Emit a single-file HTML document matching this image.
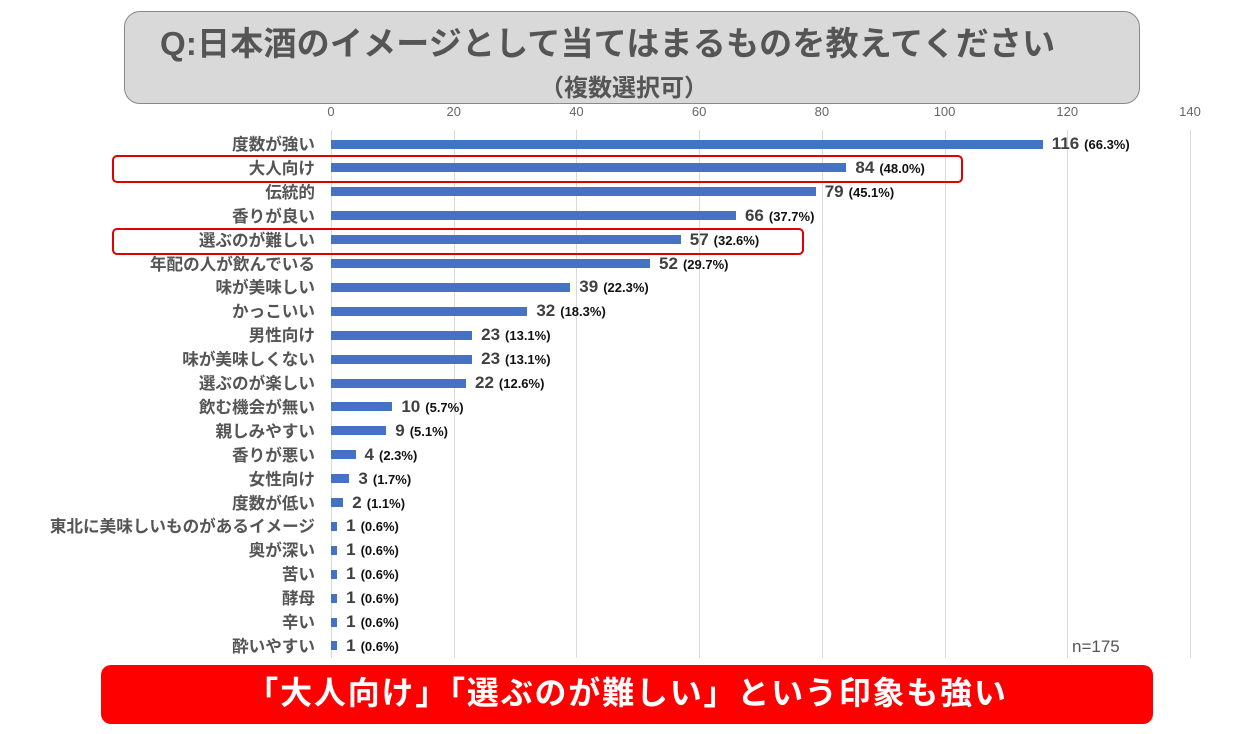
<!DOCTYPE html>
<html><head><meta charset="utf-8"><style>
body{margin:0;width:1258px;height:734px;background:#fff;position:relative;overflow:hidden;font-family:"Liberation Sans","Noto Sans CJK JP",sans-serif;}
.a{position:absolute}
.box{left:124px;top:11px;width:1014px;height:91px;background:#d9d9d9;border:1px solid #888;border-radius:16px}
.t1{left:160px;top:17px;font-size:33px;font-weight:bold;color:#555;white-space:nowrap;letter-spacing:0.2px}
.t2{left:540px;top:68px;font-size:24px;font-weight:bold;color:#555;white-space:nowrap}
.tick{top:104px;font-size:13px;color:#666;width:40px;margin-left:-20px;text-align:center}
.grid{top:130px;height:528px;width:1px;background:#d9d9d9}
.lab{right:943px;font-size:16.6px;font-weight:bold;color:#555;white-space:nowrap;line-height:20px}
.bar{left:331px;height:9px;background:#4472c4}
.val{white-space:nowrap;line-height:20px;color:#404040}
.val b{font-size:17px;font-weight:bold}
.val span{font-size:13px;font-weight:bold;color:#111;margin-left:5px}
.rb{border:2.5px solid #e00000;border-radius:5px;left:112px}
.ban{left:101px;top:665px;width:1052px;height:59px;background:#f00;border-radius:10px;color:#fff;font-size:32px;font-weight:bold;text-align:center;line-height:57px;letter-spacing:1.8px}
</style></head><body>
<div class="a box"></div>
<div class="a t1">Q:日本酒のイメージとして当てはまるものを教えてください</div>
<div class="a t2">（複数選択可）</div>
<div id="c"></div>
<div class="a rb" style="top:155px;width:847px;height:24px"></div>
<div class="a rb" style="top:228px;width:688px;height:23px"></div>
<div class="a" style="left:1072px;top:637px;font-size:17px;color:#555">n=175</div>
<div class="a ban">「大人向け」「選ぶのが難しい」という印象も強い</div>
<script>
var d=[["度数が強い",116,"66.3"],["大人向け",84,"48.0"],["伝統的",79,"45.1"],["香りが良い",66,"37.7"],["選ぶのが難しい",57,"32.6"],["年配の人が飲んでいる",52,"29.7"],["味が美味しい",39,"22.3"],["かっこいい",32,"18.3"],["男性向け",23,"13.1"],["味が美味しくない",23,"13.1"],["選ぶのが楽しい",22,"12.6"],["飲む機会が無い",10,"5.7"],["親しみやすい",9,"5.1"],["香りが悪い",4,"2.3"],["女性向け",3,"1.7"],["度数が低い",2,"1.1"],["東北に美味しいものがあるイメージ",1,"0.6"],["奥が深い",1,"0.6"],["苦い",1,"0.6"],["酵母",1,"0.6"],["辛い",1,"0.6"],["酔いやすい",1,"0.6"]];
var s="",k=859/140;
for(var i=0;i<=7;i++){var x=331+i*20*k;s+='<div class="a grid" style="left:'+x+'px"></div><div class="a tick" style="left:'+x+'px">'+(i*20)+'</div>';}
d.forEach(function(r,i){var y=144+i*23.9,w=r[1]*k;
s+='<div class="a lab" style="top:'+(y-9)+'px">'+r[0]+'</div><div class="a bar" style="top:'+(y-4.5)+'px;width:'+w+'px"></div><div class="a val" style="left:'+(331+w+9)+'px;top:'+(y-10)+'px"><b>'+r[1]+'</b><span>('+r[2]+'%)</span></div>';});
document.getElementById('c').innerHTML=s;
</script>
</body></html>
